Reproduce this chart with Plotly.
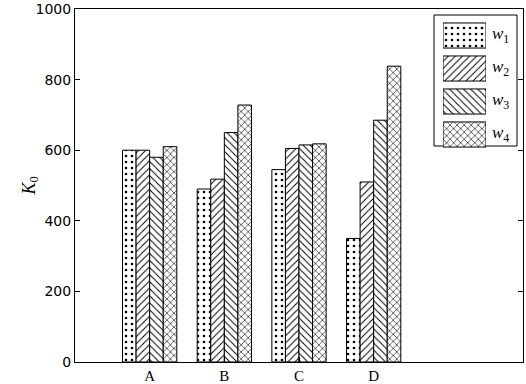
import plotly.graph_objects as go

categories = ["A", "B", "C", "D"]
series_labels = ["<i>w</i><sub>1</sub>", "<i>w</i><sub>2</sub>", "<i>w</i><sub>3</sub>", "<i>w</i><sub>4</sub>"]
w1 = [600, 490, 545, 350]
w2 = [600, 518, 605, 510]
w3 = [580, 650, 615, 685]
w4 = [610, 728, 618, 838]
y_ticks = [0, 200, 400, 600, 800, 1000]

series = [w1, w2, w3, w4]
shapes = [".", "/", "\\", "x"]
sizes = [6, 5, 5, 5]
solid = [0.15, 0.2, 0.2, 0.22]
xpos = [1, 2, 3, 4]

# plot area in pixels (for converting legend placement)
W, H = 526, 384
L, R, T, B = 75, 3, 9, 22
pw, ph = W - L - R, H - T - B
def fx(px):
    return (px - L) / pw
def fy(py):
    return (H - B - py) / ph

fig = go.Figure()
for i, (name, vals, shp, sz, so) in enumerate(zip(series_labels, series, shapes, sizes, solid)):
    pat = dict(shape=shp, fgcolor="black", bgcolor="white", size=sz, solidity=so, fillmode="replace")
    fig.add_trace(go.Bar(
        x=xpos, y=vals, name=name, showlegend=False,
        marker=dict(color="white", line=dict(color="black", width=1), pattern=pat),
    ))
    # legend swatch drawn in an inset axis
    fig.add_trace(go.Bar(
        x=[1], y=[i], orientation="h", xaxis="x2", yaxis="y2", width=0.76,
        showlegend=False, hoverinfo="skip",
        marker=dict(color="white", line=dict(color="black", width=1), pattern=pat),
    ))
    fig.add_annotation(
        x=fx(490), y=i, xref="paper", yref="y2", xanchor="left", yanchor="middle",
        text=name, showarrow=False,
        font=dict(family="Liberation Serif", size=17, color="black"),
    )

fig.add_shape(type="rect", xref="paper", yref="paper",
              x0=fx(434), x1=fx(517), y0=fy(146), y1=fy(15),
              line=dict(color="black", width=1), fillcolor="rgba(0,0,0,0)", layer="below")

fig.add_annotation(
    x=fx(16), y=fy(186), xref="paper", yref="paper", textangle=-90,
    text="<i>K</i><sub>0</sub>", showarrow=False,
    font=dict(family="Liberation Serif", size=18, color="black"),
)

fig.update_layout(
    width=W, height=H,
    margin=dict(l=L, r=R, t=T, b=B),
    paper_bgcolor="white", plot_bgcolor="white",
    barmode="group", bargap=0.273, bargroupgap=0,
    font=dict(family="DejaVu Sans", size=14, color="black"),
    xaxis=dict(range=[0, 6], tickvals=xpos, ticktext=categories, automargin=False,
               tickfont=dict(family="Liberation Serif", size=15),
               showline=True, linecolor="black", linewidth=1, mirror=True,
               ticks="inside", ticklen=5, tickcolor="black", showgrid=False, zeroline=False),
    yaxis=dict(range=[0, 1000], tickvals=y_ticks, automargin=False,
               showline=True, linecolor="black", linewidth=1, mirror="ticks",
               ticks="inside", ticklen=5, tickcolor="black", showgrid=False, zeroline=False),
    xaxis2=dict(domain=[fx(443), fx(486)], range=[0, 1], anchor="y2", visible=False, fixedrange=True),
    yaxis2=dict(domain=[fy(151), fy(19)], range=[3.5, -0.5], anchor="x2", visible=False, fixedrange=True),
    showlegend=False,
)

fig.write_html("out.html", config={"displayModeBar": False},
               post_script="document.body.style.margin='0';")
